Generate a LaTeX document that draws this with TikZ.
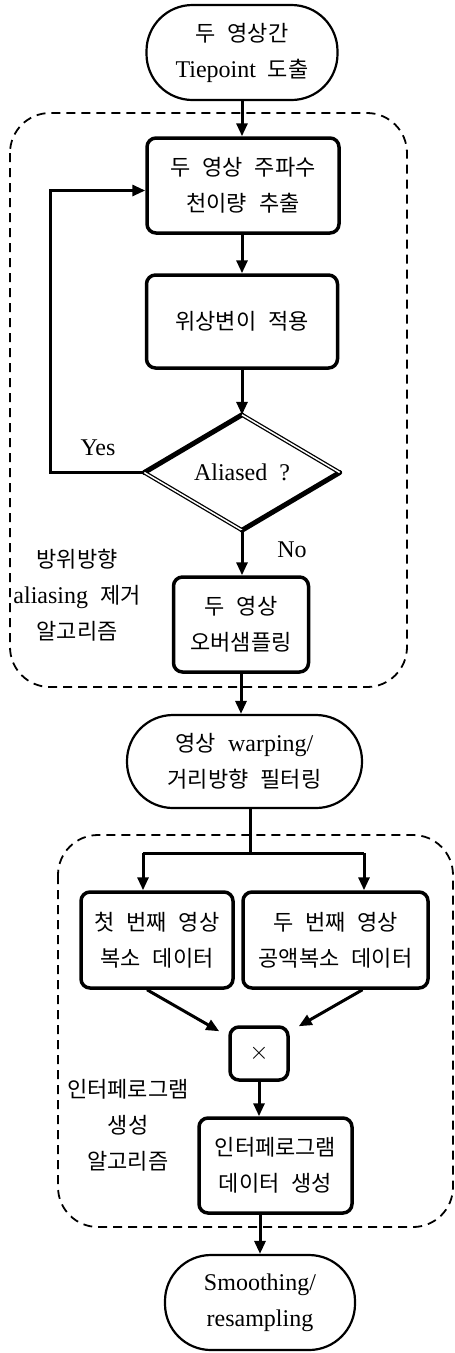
\documentclass[tikz,border=0pt]{standalone}
\usepackage{fontspec}
\setmainfont{Liberation Serif}
\newfontfamily\krfont[WordSpace=2.4]{Noto Sans CJK KR}
\newcommand{\hk}[1]{{\krfont\fontsize{22}{36}\selectfont #1}}
\usetikzlibrary{shapes.geometric,arrows.meta,calc}
\tikzset{
  txt/.style={align=center, inner sep=0pt, font=\fontsize{24}{36}\selectfont},
  boxnode/.style={txt, draw, line width=3.5pt, rounded corners=9pt},
  termnode/.style={txt, draw, line width=2.2pt, rounded corners=46pt},
  region/.style={draw, line width=1.8pt, dash pattern=on 9pt off 6pt, rounded corners=40pt},
  arr/.style={line width=3pt, -{Triangle[length=13pt,width=11pt]}},
  plain/.style={line width=3pt},
}
\begin{document}
\begin{tikzpicture}[x=1pt,y=-1pt]
\useasboundingbox (0,0) rectangle (455,1353);
% regions
\draw[region] (10,113) rectangle (407,687);
\draw[region] (58,835) rectangle (453,1227);
% nodes
\node[termnode, minimum width=191pt, minimum height=95pt] (t1) at (242,52.5) {\hk{두 영상간}\\Tiepoint\ \ \hk{도출}};
\node[boxnode, minimum width=192pt, minimum height=95pt] (b1) at (243,185.5) {\hk{두 영상 주파수}\\\hk{천이량 추출}};
\node[boxnode, minimum width=191pt, minimum height=93pt] (b2) at (242,321.5) {\hk{위상변이 적용}};
\node[txt, diamond, minimum width=195pt, minimum height=115pt] (d) at (242,472.5) {Aliased\ \ ?};
\node[boxnode, minimum width=135pt, minimum height=95pt] (b3) at (241,624.5) {\hk{두 영상}\\\hk{오버샘플링}};
\node[termnode, minimum width=235pt, minimum height=93pt] (t2) at (244.5,761.5) {\hk{영상}\ \ warping/\\\hk{거리방향 필터링}};
\node[boxnode, minimum width=152pt, minimum height=96pt] (b4) at (157,940) {\hk{첫 번째 영상}\\\hk{복소 데이터}};
\node[boxnode, minimum width=185pt, minimum height=96pt] (b5) at (335.5,940) {\hk{두 번째 영상}\\\hk{공액복소 데이터}};
\node[boxnode, minimum width=58pt, minimum height=53pt] (x) at (259,1053.5) {$\times$};
\node[boxnode, minimum width=153pt, minimum height=95pt] (b6) at (275.5,1165.5) {\hk{인터페로그램}\\\hk{데이터 생성}};
\node[termnode, minimum width=190pt, minimum height=95pt] (t3) at (260,1302.5) {Smoothing/\\resampling};
% labels
\node[txt] (yes) at (98,448) {Yes};
\node[txt] (no) at (292,550) {No};
\node[txt] (lab1) at (77,595) {\hk{방위방향}\\aliasing\ \ \hk{제거}\\\hk{알고리즘}};
\node[txt] (lab2) at (128,1125) {\hk{인터페로그램}\\\hk{생성}\\\hk{알고리즘}};
% diamond outline
\draw[line width=5pt, line cap=round] (d.west) -- (d.north);
\draw[line width=5pt, line cap=round] (d.east) -- (d.south);
\draw[line width=1.3pt, double, double distance=1.5pt] (d.north) -- (d.east);
\draw[line width=1.3pt, double, double distance=1.5pt] (d.south) -- (d.west);
% connectors
\draw[arr] (t1.south) -- (t1.south |- b1.north);
\draw[arr] (b1.south -| b2.north) -- (b2.north);
\draw[arr] (b2.south -| d.north) -- (d.north);
\coordinate (lp) at (50,472.5);
\draw[arr] (d.west) -- (lp) |- ($(b1.west)+(0,5)$);
\draw[arr] (d.south) -- (d.south |- b3.north);
\draw[arr] (b3.south) -- (b3.south |- t2.north);
\coordinate (sp) at (250,853);
\coordinate (ha) at (143,853);
\coordinate (hb) at (364,853);
\draw[plain] (t2.south -| sp) -- (sp);
\draw[plain] (ha) -- (hb);
\draw[arr] (ha) -- (ha |- b4.north);
\draw[arr] (hb) -- (hb |- b5.north);
\draw[arr] ($(b4.south)+(-10,0)$) -- ($(x.north west)+(-9,6)$);
\draw[arr] ($(b5.south)+(27,0)$) -- ($(x.north east)+(9,1)$);
\draw[arr] (x.south) -- (x.south |- b6.north);
\draw[arr] (b6.south -| t3.north) -- (t3.north);
\end{tikzpicture}
\end{document}
